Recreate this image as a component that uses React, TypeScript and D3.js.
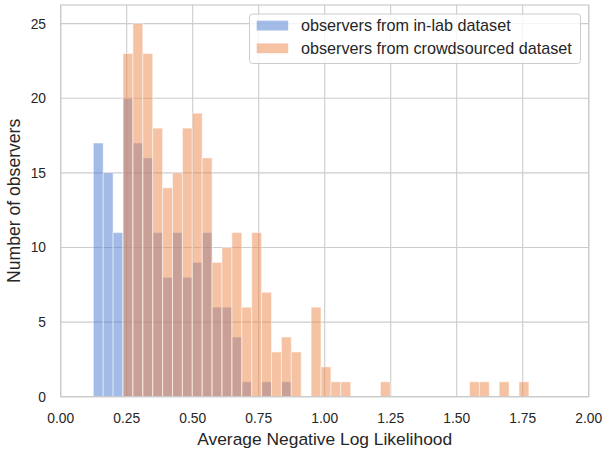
import React from "react";
import * as d3 from "d3";

const binStart = 0.1235;
const binWidth = 0.0375;
const inLabCounts = [17, 15, 11, 20, 17, 16, 11, 8, 11, 8, 9, 11, 6, 6, 4, 1, 0, 1, 0, 1];
const crowdCounts = [
  0, 0, 0, 23, 25, 23, 18, 14, 15, 18, 19, 16, 9, 10, 11, 6, 11, 7, 3, 4, 3, 0,
  6, 2, 1, 1, 0, 0, 0, 1, 0, 0, 0, 0, 0, 0, 0, 0, 1, 1, 0, 1, 0, 1,
];
const xTicks = [0, 0.25, 0.5, 0.75, 1.0, 1.25, 1.5, 1.75, 2.0];
const yTicks = [0, 5, 10, 15, 20, 25];
const seriesNames = ["observers from in-lab dataset", "observers from crowdsourced dataset"];
const colors = ["#4878d0", "#ee854a"];

const W = 602;
const H = 451;
const left = 60.7;
const right = 588.7;
const top = 5;
const bottom = 396.7;
const FONT = "'Liberation Sans', Arial, sans-serif";
const TXT = "#262626";
const GRID = "#cccccc";

export default function App() {
  const x = d3.scaleLinear().domain([0, 2]).range([left, right]);
  const y = d3.scaleLinear().domain([0, 26.25]).range([bottom, top]);

  const series = [inLabCounts, crowdCounts];

  return (
    <svg
      width={W}
      height={H}
      style={{ position: "absolute", left: 0, top: 0, background: "#fff" }}
      fontFamily={FONT}
    >
      <rect x={0} y={0} width={W} height={H} fill="#fff" />
      {xTicks.map((t) => (
        <line key={"gx" + t} x1={x(t)} x2={x(t)} y1={top} y2={bottom} stroke={GRID} strokeWidth={1.1} />
      ))}
      {yTicks.map((t) => (
        <line key={"gy" + t} x1={left} x2={right} y1={y(t)} y2={y(t)} stroke={GRID} strokeWidth={1.1} />
      ))}
      {series.map((counts, si) => (
        <g key={"s" + si}>
          {counts.map((c, i) => {
            if (c === 0) return null;
            const x0 = x(binStart + i * binWidth);
            const x1 = x(binStart + (i + 1) * binWidth);
            return (
              <rect
                key={i}
                x={x0}
                y={y(c)}
                width={x1 - x0}
                height={y(0) - y(c)}
                fill={colors[si]}
                fillOpacity={0.5}
                stroke="#ffffff"
                strokeOpacity={0.5}
                strokeWidth={1}
              />
            );
          })}
        </g>
      ))}
      <rect x={left} y={top} width={right - left} height={bottom - top} fill="none" stroke={GRID} strokeWidth={1.25} />
      {xTicks.map((t) => (
        <text key={"tx" + t} x={x(t)} y={422.5} textAnchor="middle" fontSize={13.8} fill={TXT}>
          {d3.format(".2f")(t)}
        </text>
      ))}
      {yTicks.map((t) => (
        <text key={"ty" + t} x={46} y={y(t) + 5} textAnchor="end" fontSize={13.8} fill={TXT}>
          {t}
        </text>
      ))}
      <text x={(left + right) / 2} y={444.5} textAnchor="middle" fontSize={17.4} fill={TXT}>
        Average Negative Log Likelihood
      </text>
      <text
        transform={`translate(20,${(top + bottom) / 2}) rotate(-90)`}
        textAnchor="middle"
        fontSize={17.6}
        fill={TXT}
      >
        Number of observers
      </text>
      <rect x={249.5} y={14} width={331} height={49.5} rx={3} fill="#fff" fillOpacity={0.8} stroke={GRID} strokeWidth={1} />
      {seriesNames.map((n, i) => (
        <g key={n}>
          <rect x={256.7} y={20.7 + i * 22.7} width={31.5} height={9.8} fill={colors[i]} fillOpacity={0.5} />
          <text x={301} y={31 + i * 22.7} fontSize={16.2} fill={TXT}>
            {n}
          </text>
        </g>
      ))}
    </svg>
  );
}
